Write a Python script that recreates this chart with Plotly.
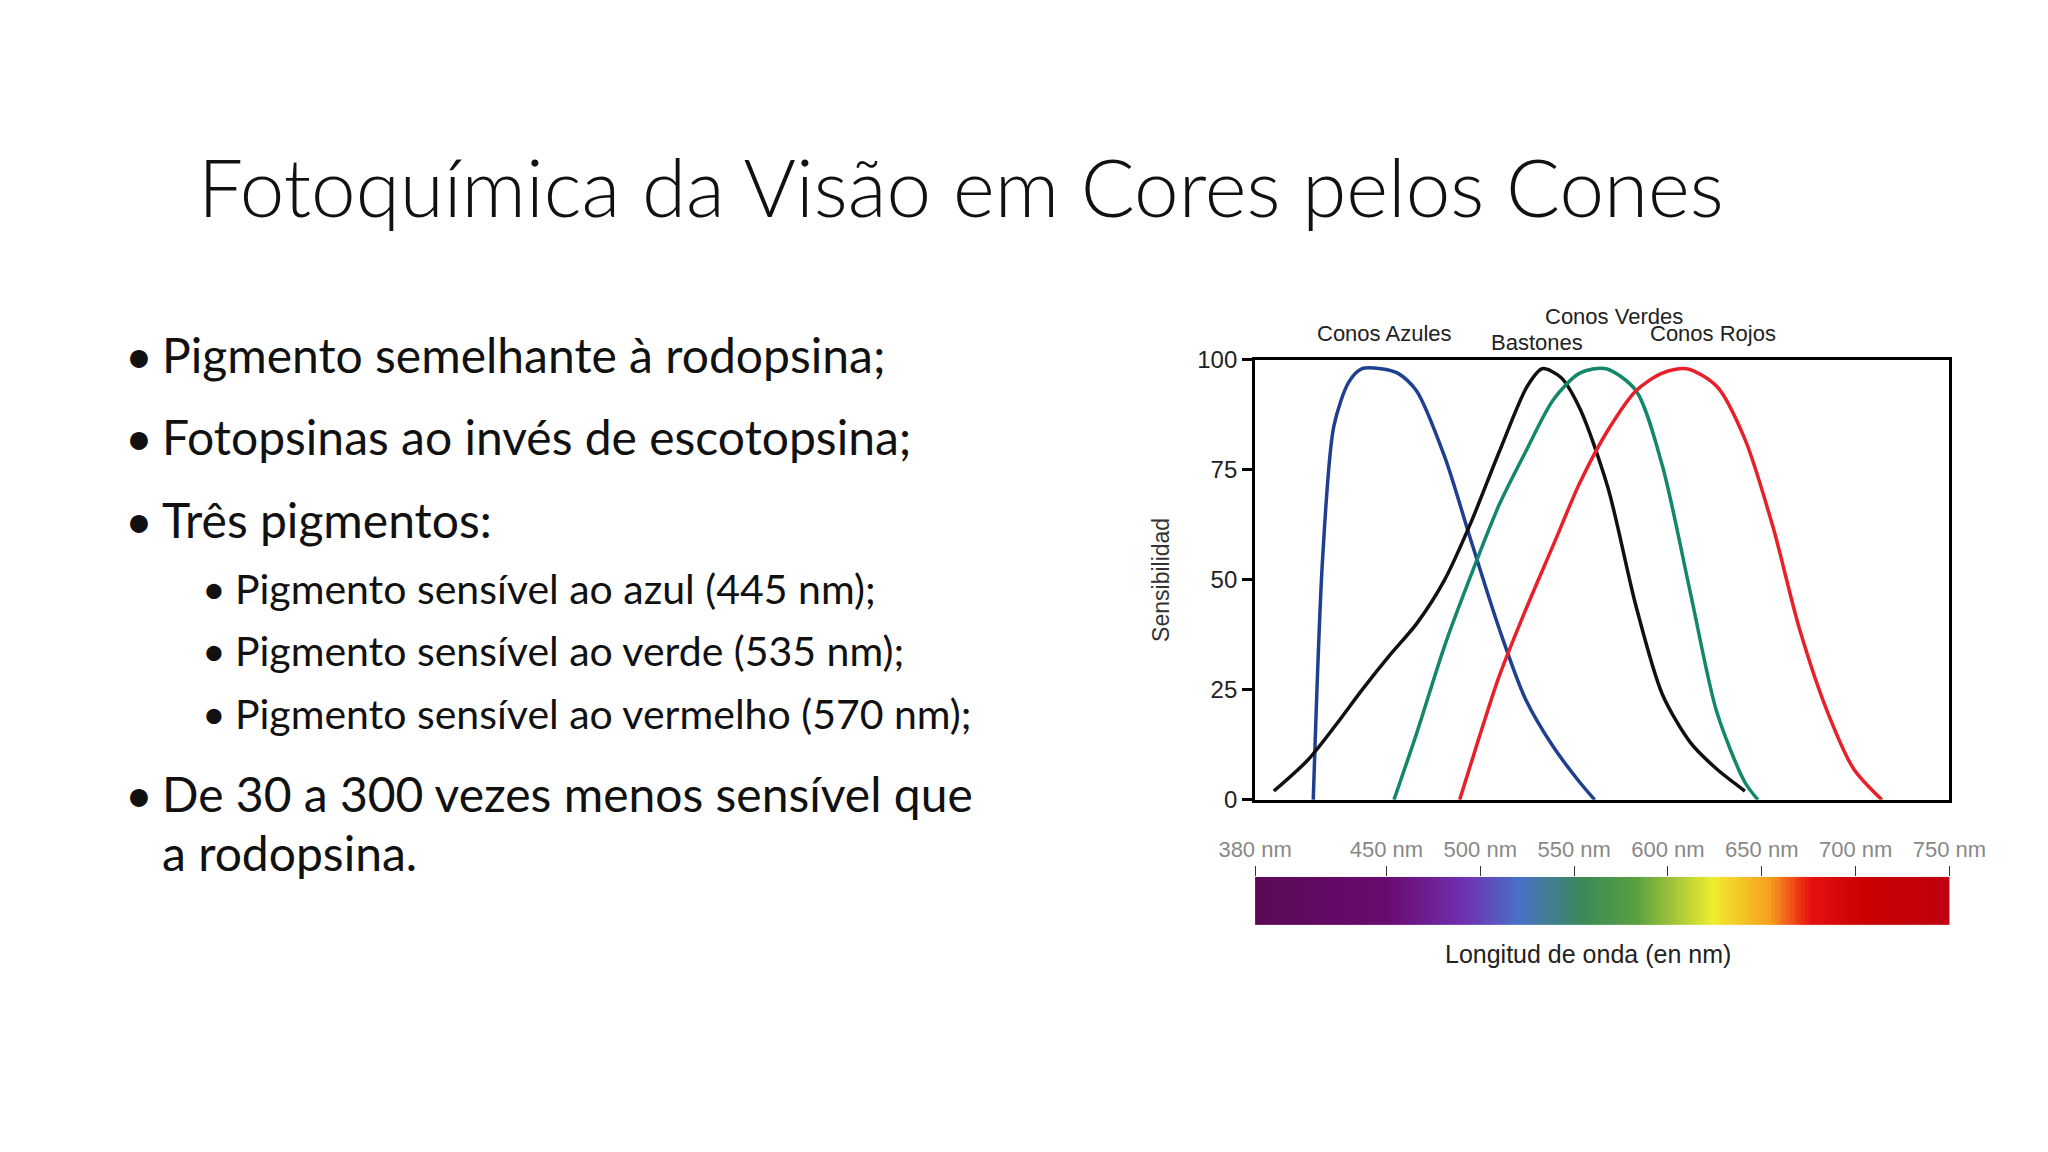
import plotly.graph_objects as go

# sensitivity curves (wavelength nm, sensitivity %)
blue_x = [411, 416, 422, 430, 437, 447, 456, 466, 481, 495, 510, 524, 539, 553, 561]
blue_y = [0, 55, 85, 95, 98, 98, 97, 93, 78, 59, 39, 23, 12, 4, 0]
rod_x = [390, 408, 423, 437, 452, 466, 481, 495, 510, 525, 533, 543, 553, 568, 583, 597, 612, 626, 641]
rod_y = [2, 9, 17, 25, 33, 40, 50, 63, 79, 94, 98, 96, 89, 71, 44, 24, 13, 7, 2]
green_x = [454, 466, 481, 495, 510, 524, 539, 553, 567, 583, 597, 612, 626, 641, 648]
green_y = [0, 15, 35, 51, 67, 79, 91, 97, 98, 93, 76, 47, 20, 4, 0]
red_x = [489, 500, 510, 524, 539, 553, 568, 583, 597, 610, 626, 641, 656, 670, 685, 699, 714]
red_y = [0, 15, 28, 43, 58, 72, 84, 93, 97, 98, 94, 82, 62, 39, 20, 7, 0]

y_ticks = [0, 25, 50, 75, 100]
nm_ticks = [380, 450, 500, 550, 600, 650, 700, 750]
nm_labels = [f"{v} nm" for v in nm_ticks]
spectrum_nm = list(range(380, 751, 2))

curve_labels = [("Conos Azules", 1403, 324), ("Bastones", 1562, 333),
                ("Conos Verdes", 1643, 306), ("Conos Rojos", 1746, 324)]

bullets = [
    (1, "Pigmento semelhante à rodopsina;", 345),
    (1, "Fotopsinas ao invés de escotopsina;", 431),
    (1, "Três pigmentos:", 517),
    (2, "Pigmento sensível ao azul (445 nm);", 588),
    (2, "Pigmento sensível ao verde (535 nm);", 653),
    (2, "Pigmento sensível ao vermelho (570 nm);", 718),
    (1, "De 30 a 300 vezes menos sensível que", 801),
    (0, "a rodopsina.", 863),
]

W, H = 2048, 1152
fig = go.Figure()

for xs, ys, col in [(blue_x, blue_y, "#1f3f8f"), (rod_x, rod_y, "#111111"),
                    (green_x, green_y, "#14876a"), (red_x, red_y, "#e8202a")]:
    fig.add_trace(go.Scatter(x=xs, y=ys, mode="lines",
                             line=dict(color=col, width=3.5, shape="spline", smoothing=0.8),
                             showlegend=False, hoverinfo="skip"))

fig.add_trace(go.Heatmap(x=spectrum_nm, y=[0], z=[spectrum_nm], xaxis="x2", yaxis="y2", showscale=False,
                         colorscale=[[0, "#5a0a55"], [0.19, "#6a0a6f"], [0.3, "#7030b0"], [0.38, "#4a70c8"],
                                     [0.47, "#3a8a5a"], [0.55, "#5aa040"], [0.66, "#f0ec30"], [0.74, "#f8a020"],
                                     [0.8, "#e81010"], [0.88, "#c80000"], [1, "#c00010"]],
                         hoverinfo="skip"))

fig.update_layout(
    width=2030, height=1136, paper_bgcolor="white", plot_bgcolor="white",
    margin=dict(l=0, r=0, t=0, b=0),
    font=dict(family="Liberation Sans", color="#222"),
    xaxis=dict(domain=[1267 / W, 1994 / W], range=[380, 750], showticklabels=False, ticks="",
               showgrid=False, zeroline=False, showline=True, mirror=True, linecolor="black", linewidth=3),
    yaxis=dict(domain=[1 - 808 / H, 1 - 351 / H], range=[0, 100], tickvals=y_ticks, ticks="outside",
               ticklen=10, tickwidth=3, tickcolor="black", tickfont=dict(size=24, color="#222"),
               showgrid=False, zeroline=False, showline=True, mirror=True, linecolor="black", linewidth=3,
               title=dict(text="Sensibilidad", font=dict(size=23, color="#333"), standoff=22)),
    xaxis2=dict(domain=[1267 / W, 1994 / W], range=[380, 750], anchor="y2", side="top",
                tickvals=nm_ticks, ticktext=nm_labels, ticks="outside", ticklen=10, tickcolor="#333",
                tickfont=dict(size=22, color="#888"), showgrid=False, zeroline=False),
    yaxis2=dict(domain=[1 - 938 / H, 1 - 888 / H], range=[-0.5, 0.5], showticklabels=False,
                showgrid=False, zeroline=False),
)

def note(x, y, text, font, xanchor="center"):
    return dict(x=x / W, y=1 - y / H, text=text, showarrow=False, xref="paper", yref="paper",
                xanchor=xanchor, yanchor="middle", font=font)

ann = [note(x, y, t, dict(size=22, color="#222")) for t, x, y in curve_labels]
ann.append(note(1616, 968, "Longitud de onda (en nm)", dict(size=25, color="#222")))
ann.append(note(158, 170, "Fotoquímica da Visão em Cores pelos Cones",
                dict(family="Lato", size=80, weight=300, color="#111"), "left"))
for lvl, t, y in bullets:
    size = 48 if lvl != 2 else 41
    tx = 197 if lvl == 2 else 120
    bx = 162 if lvl == 2 else 82
    ann.append(note(tx, y, t, dict(family="Lato", size=size, color="#111"), "left"))
    if lvl:
        ann.append(note(bx, y, "•", dict(family="Lato", size=size, color="#111"), "left"))
fig.update_layout(annotations=ann)

fig.write_html("out.html")
